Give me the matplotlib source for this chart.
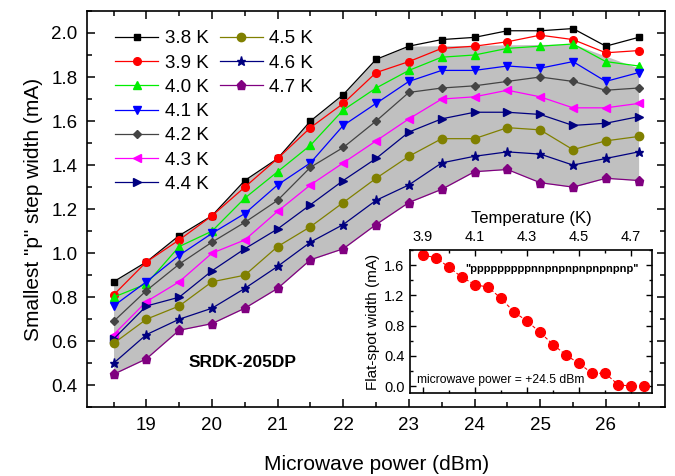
import matplotlib
matplotlib.use("Agg")
import matplotlib.pyplot as plt
import numpy as np
from matplotlib.lines import Line2D
from matplotlib.ticker import MultipleLocator, FormatStrFormatter

plt.rcParams['font.family'] = ['Liberation Sans', 'DejaVu Sans']

# microwave power (dBm)
power = [18.5, 19.0, 19.5, 20.0, 20.5, 21.0, 21.5, 22.0, 22.5,
         23.0, 23.5, 24.0, 24.5, 25.0, 25.5, 26.0, 26.5]

# smallest "p" step width (mA), one list per temperature
w38 = [0.87, 0.96, 1.08, 1.17, 1.33, 1.43, 1.60, 1.72, 1.88, 1.94, 1.97, 1.98, 2.01, 2.01, 2.02, 1.94, 1.98]
w39 = [0.81, 0.96, 1.06, 1.17, 1.30, 1.43, 1.57, 1.68, 1.82, 1.87, 1.93, 1.94, 1.96, 1.99, 1.97, 1.91, 1.92]
w40 = [0.80, 0.86, 1.03, 1.10, 1.25, 1.37, 1.49, 1.65, 1.75, 1.83, 1.89, 1.90, 1.93, 1.94, 1.95, 1.87, 1.85]
w41 = [0.76, 0.87, 0.99, 1.09, 1.18, 1.31, 1.41, 1.58, 1.68, 1.78, 1.83, 1.83, 1.85, 1.84, 1.87, 1.78, 1.82]
w42 = [0.69, 0.83, 0.95, 1.05, 1.14, 1.24, 1.39, 1.48, 1.60, 1.73, 1.75, 1.76, 1.78, 1.80, 1.78, 1.74, 1.75]
w43 = [0.63, 0.78, 0.87, 1.00, 1.06, 1.19, 1.31, 1.41, 1.51, 1.61, 1.70, 1.71, 1.74, 1.71, 1.66, 1.66, 1.68]
w44 = [0.61, 0.76, 0.80, 0.92, 1.02, 1.11, 1.22, 1.33, 1.43, 1.55, 1.61, 1.64, 1.64, 1.63, 1.58, 1.59, 1.62]
w45 = [0.59, 0.70, 0.76, 0.87, 0.90, 1.03, 1.12, 1.23, 1.34, 1.44, 1.52, 1.52, 1.57, 1.56, 1.47, 1.51, 1.53]
w46 = [0.50, 0.63, 0.70, 0.75, 0.84, 0.94, 1.05, 1.13, 1.24, 1.31, 1.41, 1.44, 1.46, 1.45, 1.40, 1.43, 1.46]
w47 = [0.45, 0.52, 0.65, 0.68, 0.75, 0.84, 0.97, 1.02, 1.13, 1.23, 1.29, 1.37, 1.38, 1.32, 1.30, 1.34, 1.33]

temps = ['3.8 K', '3.9 K', '4.0 K', '4.1 K', '4.2 K', '4.3 K', '4.4 K', '4.5 K', '4.6 K', '4.7 K']
series = [w38, w39, w40, w41, w42, w43, w44, w45, w46, w47]
colors = ['black', 'red', '#00ee00', 'blue', '#444444', 'magenta', '#000080', '#808000', '#000080', '#800080']
markers = ['s', 'o', '^', 'v', 'D', '<', '>', 'o', '*', 'p']
msizes = [5, 5.5, 6, 6, 4.5, 6, 6, 6, 6.5, 6.5]

# inset: flat-spot width vs temperature at +24.5 dBm
inset_T = [3.90, 3.95, 4.00, 4.05, 4.10, 4.15, 4.20, 4.25, 4.30,
           4.35, 4.40, 4.45, 4.50, 4.55, 4.60, 4.65, 4.70, 4.75]
inset_w = [1.73, 1.70, 1.57, 1.44, 1.34, 1.31, 1.16, 0.98, 0.86,
           0.71, 0.55, 0.41, 0.30, 0.17, 0.17, 0.02, 0.00, 0.00]

fig = plt.figure(figsize=(6.75, 4.76), dpi=100)
ax = fig.add_axes([0.1293, 0.1443, 0.8557, 0.8327])

# grey band: top follows 3.8 K up to 23 dBm, then straight segments
p = np.array(power)
top = np.array(w38, dtype=float)
hi = p > 23.0
top[hi] = np.interp(p[hi], [23.0, 25.5, 26.5], [w38[9], w40[14], w40[16] - 0.01])
ax.fill_between(p, w47, top, color='#c0c0c0', lw=0, zorder=1)

handles = []
for lab, y, c, m, ms in zip(temps, series, colors, markers, msizes):
    h, = ax.plot(power, y, color=c, marker=m, ms=ms, mec=c, mfc=c, lw=0.9, label=lab, zorder=3)
    handles.append(h)

ax.set_xlim(18.1, 26.9)
ax.set_ylim(0.3, 2.1)
ax.xaxis.set_major_locator(MultipleLocator(1))
ax.xaxis.set_minor_locator(MultipleLocator(0.5))
ax.yaxis.set_major_locator(MultipleLocator(0.2))
ax.yaxis.set_minor_locator(MultipleLocator(0.1))
ax.yaxis.set_major_formatter(FormatStrFormatter('%.1f'))
ax.tick_params(which='both', direction='in', top=True, right=True, width=1.1)
ax.tick_params(which='major', length=6, labelsize=13.5, pad=7)
ax.tick_params(which='minor', length=3.5)
for s in ax.spines.values():
    s.set_linewidth(1.2)

ax.set_xlabel('Microwave power (dBm)', fontsize=15, labelpad=15)
ax.set_ylabel('Smallest "p" step width (mA)', fontsize=15, labelpad=6)

# 7 rows in the first column, 3 in the second
blank = Line2D([], [], alpha=0)
leg_h = handles[:7] + handles[7:] + [blank] * 4
leg_l = temps[:7] + temps[7:] + [''] * 4
ax.legend(leg_h, leg_l, ncol=2, loc='upper left', bbox_to_anchor=(0.035, 0.97), frameon=False,
          fontsize=13.5, handlelength=2.3, handletextpad=0.35, columnspacing=0.6,
          labelspacing=0.38, borderaxespad=0)

ax.text(0.268, 0.112, 'SRDK-205DP', transform=ax.transAxes, fontsize=12.5,
        fontweight='bold', ha='center', va='center')

# inset
ins = fig.add_axes([0.6074, 0.1744, 0.3585, 0.3004])
ins.plot(inset_T, inset_w, color='red', ls='--', lw=0.8, marker='o', ms=7,
         mfc='red', mec='red', dashes=(3, 2))
ins.set_xlim(3.85, 4.78)
ins.set_ylim(-0.09, 1.8)
ins.xaxis.set_minor_locator(MultipleLocator(0.1))
ins.yaxis.set_major_locator(MultipleLocator(0.4))
ins.yaxis.set_minor_locator(MultipleLocator(0.2))
ins.xaxis.set_major_formatter(FormatStrFormatter('%.1f'))
ins.yaxis.set_major_formatter(FormatStrFormatter('%.1f'))
ins.set_xticks(np.arange(3.9, 4.71, 0.2))
ins.xaxis.tick_top()
ins.xaxis.set_label_position('top')
ins.tick_params(which='both', direction='in', top=True, bottom=True, right=True, left=True, width=1)
ins.tick_params(which='major', length=4.5, labelsize=10.5, pad=4)
ins.tick_params(which='minor', length=2.5)
for s in ins.spines.values():
    s.set_linewidth(1.2)
ins.set_xlabel('Temperature (K)', fontsize=12, labelpad=5)
ins.set_ylabel('Flat-spot width (mA)', fontsize=11, labelpad=3)
ins.text(0.585, 0.87, '"pppppppppnnpnpnpnpnpnpnp"', transform=ins.transAxes,
         fontsize=8, fontweight='bold', ha='center', va='center')
ins.text(0.03, 0.09, 'microwave power = +24.5 dBm', transform=ins.transAxes,
         fontsize=8.7, ha='left', va='center')

fig.savefig('out.png', dpi=100)
